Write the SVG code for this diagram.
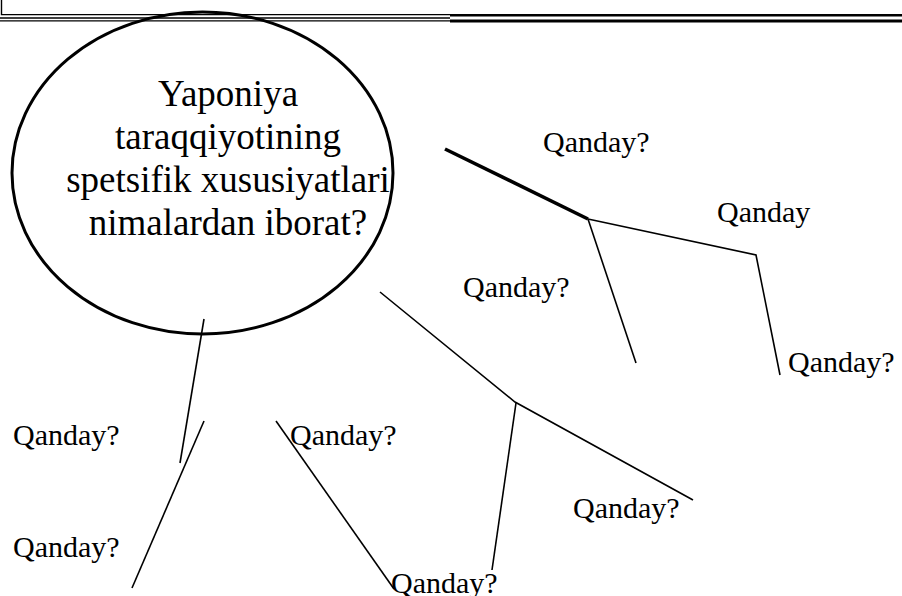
<svg xmlns="http://www.w3.org/2000/svg" width="902" height="596" viewBox="0 0 902 596">
<style>
.t{font-family:'Liberation Serif','Tinos','DejaVu Serif',serif;fill:#000}
.lbl{font-size:30px}
.main{font-size:37px;text-anchor:middle}
.ln{fill:none;stroke:#000;stroke-width:1.6;stroke-linejoin:miter}
.thick{stroke-width:3.6}
</style>
<rect width="902" height="596" fill="#fff"/>
<g id="frame" fill="none" stroke="#000">
<path d="M1.5,0 V14.6 H450" stroke-width="1.4"/>
<line x1="0" y1="18" x2="450" y2="18" stroke-width="1.3"/>
<line x1="0" y1="20.8" x2="450" y2="20.8" stroke-width="1.3"/>
<line x1="450" y1="15.3" x2="902" y2="15.3" stroke-width="2.6"/>
<line x1="450" y1="21" x2="902" y2="21" stroke-width="3"/>
</g>
<g id="center">
<ellipse cx="202.5" cy="173" rx="190.5" ry="161" fill="none" stroke="#000" stroke-width="3"/>
<text class="t main" x="228" y="105.5">Yaponiya</text>
<text class="t main" x="228" y="148.5">taraqqiyotining</text>
<text class="t main" x="228" y="191.5">spetsifik xususiyatlari</text>
<text class="t main" x="228" y="234.5">nimalardan iborat?</text>
</g>
<g id="connectors">
<line class="ln thick" x1="445" y1="149" x2="588" y2="219"/>
<polyline class="ln" points="588,219 756,255 780,375"/>
<line class="ln" x1="588" y1="219" x2="636" y2="363"/>
<polyline class="ln" points="380,292 515,402 693,500"/>
<line class="ln" x1="516" y1="403" x2="492" y2="570"/>
<line class="ln" x1="204" y1="319" x2="180" y2="463"/>
<line class="ln" x1="204" y1="421" x2="132" y2="588"/>
<line class="ln" x1="276" y1="421" x2="394" y2="589"/>
</g>
<g id="n1"><text class="t lbl" x="543" y="152">Qanday?</text></g>
<g id="n2"><text class="t lbl" x="717" y="222">Qanday</text></g>
<g id="n3"><text class="t lbl" x="463" y="297">Qanday?</text></g>
<g id="n4"><text class="t lbl" x="788" y="372">Qanday?</text></g>
<g id="n5"><text class="t lbl" x="13" y="445">Qanday?</text></g>
<g id="n6"><text class="t lbl" x="290" y="445">Qanday?</text></g>
<g id="n7"><text class="t lbl" x="573" y="518">Qanday?</text></g>
<g id="n8"><text class="t lbl" x="13" y="557">Qanday?</text></g>
<g id="n9"><text class="t lbl" x="391" y="593">Qanday?</text></g>
</svg>
